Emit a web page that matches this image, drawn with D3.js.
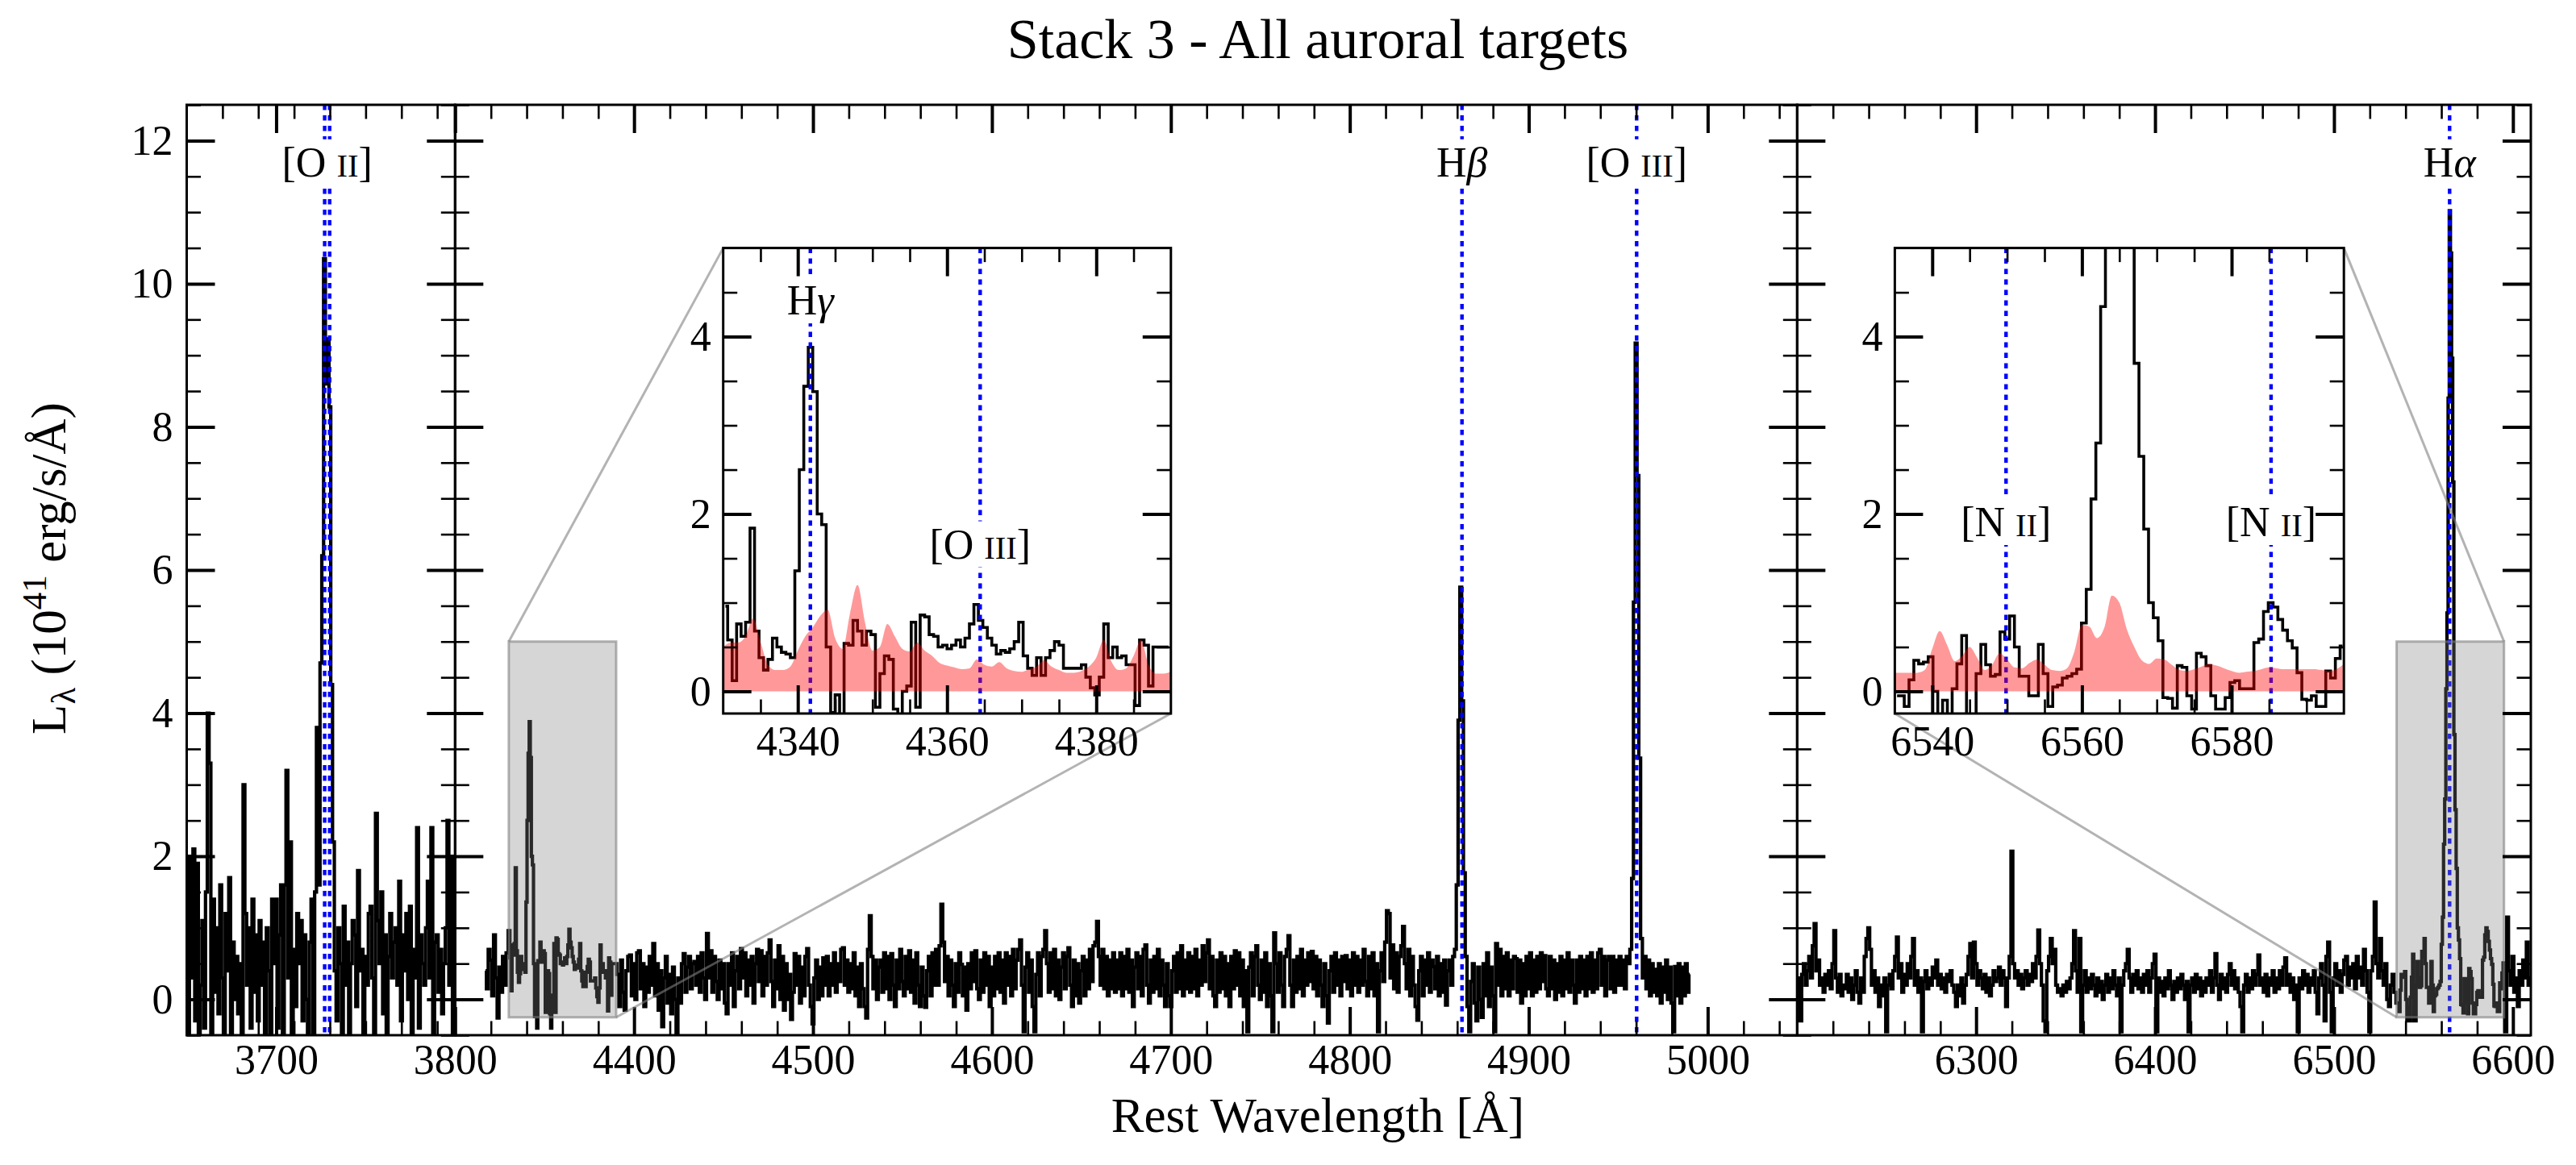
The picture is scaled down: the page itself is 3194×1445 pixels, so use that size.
<!DOCTYPE html>
<html><head><meta charset="utf-8">
<script src="https://cdn.jsdelivr.net/npm/d3@7"></script>
<style>body{margin:0;background:#fff}svg{display:block}</style>
</head><body><svg id="c" width="3194" height="1445"></svg>
<script>
// ---------------- DATA ----------------
const TITLE = "Stack 3 - All auroral targets";
const X_LABEL = "Rest Wavelength [Å]";
const PANEL_RANGES = [[3650, 3800], [4300, 5050], [6200, 6610]];
const X_TICK_LABELS = [[3700, 3800], [4400, 4500, 4600, 4700, 4800, 4900, 5000], [6300, 6400, 6500, 6600]];
const Y_DOMAIN = [-0.5, 12.5];
const Y_TICKS = [0, 2, 4, 6, 8, 10, 12];

// Panel 1 spectrum, 1 A sampling from 3651
const P1_START = 3651;
const P1_FLUX = [
-0.6,2.0,0.3,2.1,-0.3,1.9,-0.6,0.2,1.1,-0.4,
1.5,4.0,3.3,-0.6,1.4,0.1,1.0,-0.2,1.6,0.3,
-0.5,1.2,0.4,1.7,-0.6,0.8,0.0,0.6,-0.2,0.5,
-0.6,3.0,1.2,0.2,1.0,-0.4,1.4,0.1,0.9,-0.3,
1.1,0.2,0.8,-0.5,1.0,0.4,-0.6,1.4,0.5,1.4,
-0.4,0.9,1.6,-0.5,1.6,3.2,0.3,2.2,-0.6,0.7,
-0.1,1.2,0.5,1.1,-0.3,0.9,0.0,-0.6,0.8,1.4,
-0.5,1.5,3.8,1.6,4.7,6.2,10.35,8.6,9.23,8.28,
4.4,2.2,0.4,-0.3,1.0,0.5,-0.6,1.3,0.2,0.8,
-0.6,0.5,1.1,0.9,-0.1,1.8,0.4,0.7,-0.6,0.6,
0.2,1.2,1.3,0.3,-0.6,2.6,1.1,0.5,1.5,-0.2,
0.9,-0.6,0.6,1.2,0.3,0.8,1.0,0.2,1.65,-0.3,
0.9,0.4,1.2,0.0,1.3,-0.6,0.7,0.3,2.4,-0.4,
0.9,0.5,0.2,1.0,1.65,0.3,2.4,-0.6,0.8,0.9,
0.1,0.7,-0.2,0.5,1.0,2.5,0.2,2.0,-0.6,1.2];

// Panel 2 spectrum: 4317-4329 and 4391-4990 at 1 A
const P2A_START = 4317;
const P2A_FLUX = [0.4,0.15,0.7,0.55,0.05,0.9,0.3,-0.26,0.45,0.1,0.6,0.2,0.65];
const P2B_START = 4391;
const P2B_FLUX = [
0.35,-0.1,0.55,0.1,-0.15,0.4,0.6,0.62,0.05,0.5,0.0,0.65,0.68,0.15,0.5,-0.1,0.45,0.1,0.6,0.2,
0.78,0.05,0.5,-0.15,0.4,-0.38,0.3,0.6,-0.05,0.35,-0.2,0.45,0.0,-0.5,0.3,-0.05,0.5,0.64,0.1,0.45,
0.6,0.15,0.5,0.53,0.2,0.6,0.1,0.65,0.3,0.0,0.92,0.3,0.68,0.1,0.6,0.25,0.0,0.55,0.15,0.5,
-0.05,-0.2,0.5,0.2,0.65,-0.1,0.4,0.6,0.15,0.71,0.3,0.65,0.05,0.55,0.2,0.6,-0.05,0.5,0.7,0.25,
0.68,0.05,0.6,0.2,0.65,0.83,0.25,-0.1,0.55,0.15,0.75,0.0,0.6,-0.15,0.5,0.0,0.35,-0.28,0.1,0.64,
0.2,0.6,-0.05,0.45,0.05,0.6,0.71,0.2,-0.1,-0.34,0.3,0.55,0.0,0.45,0.05,0.58,0.2,0.6,0.05,0.5,
0.2,0.65,0.1,0.5,0.25,0.7,0.72,0.2,0.55,0.1,0.5,0.15,0.65,0.05,0.45,-0.1,0.5,0.15,-0.1,-0.26,
0.7,1.17,0.6,0.15,0.55,0.0,0.45,0.55,0.1,0.65,0.15,0.6,0.0,0.64,0.2,-0.1,0.55,0.15,0.7,0.25,
0.05,0.6,0.15,0.68,0.1,0.55,-0.05,0.65,0.2,-0.1,0.45,0.05,-0.11,0.4,0.6,0.05,0.65,0.2,0.7,0.2,
0.75,1.33,0.8,0.25,0.6,0.05,0.55,0.2,-0.1,0.5,0.1,0.65,0.49,0.05,0.45,-0.15,0.5,0.15,0.65,0.25,
0.68,0.15,0.0,0.55,0.1,0.65,0.2,0.6,-0.1,0.45,0.05,0.6,0.15,0.65,0.1,0.55,-0.05,0.65,0.2,0.6,
0.05,0.7,0.15,0.55,0.7,0.83,0.2,-0.45,0.45,0.65,0.1,0.55,-0.1,-0.45,0.35,0.65,0.05,0.6,0.7,0.96,
0.5,0.1,0.65,0.15,0.7,0.05,0.55,0.0,0.45,0.65,0.15,0.6,0.72,0.2,-0.1,0.55,0.05,0.5,-0.05,0.4,
0.6,0.05,0.55,0.15,0.7,0.25,0.75,0.8,1.09,0.6,0.2,0.7,0.15,0.6,0.05,0.55,0.15,0.65,0.1,0.55,
0.15,0.65,0.05,0.6,0.15,0.7,0.1,0.55,-0.1,0.45,0.65,0.15,0.6,0.05,0.7,0.76,0.2,-0.05,0.55,0.1,
0.6,0.15,0.7,0.05,0.55,0.2,-0.1,0.5,0.05,-0.1,0.4,0.6,0.1,0.65,0.15,0.75,0.05,0.55,0.15,0.65,
0.1,0.6,0.15,0.7,0.05,0.55,0.2,0.75,0.25,0.65,0.83,0.15,0.6,0.05,-0.1,0.55,0.1,0.65,0.15,0.6,
0.05,0.5,-0.1,0.6,0.15,0.68,0.2,0.65,0.05,0.55,-0.1,0.4,-0.45,0.45,0.65,0.05,0.6,0.75,0.2,0.0,
0.55,0.1,0.65,-0.1,0.5,0.05,-0.45,0.93,0.5,0.1,0.65,0.2,-0.1,0.6,0.7,0.89,0.2,-0.1,0.55,0.1,
0.6,0.15,0.7,0.05,0.55,0.2,0.65,0.25,0.67,0.15,0.6,0.05,0.55,0.2,-0.1,0.5,0.05,-0.33,0.4,0.6,
0.1,0.65,0.2,0.55,0.05,0.6,0.25,0.61,0.15,0.55,0.05,0.65,0.2,0.6,0.1,0.55,0.2,0.7,0.25,0.05,
0.6,0.15,0.65,0.05,0.5,-0.45,0.4,0.65,0.25,0.8,1.24,1.2,0.3,0.76,0.15,0.65,0.1,0.6,0.75,1.02,
0.5,0.15,0.7,0.05,0.6,0.2,-0.1,-0.29,0.4,0.6,0.05,0.55,0.2,0.65,0.1,0.55,0.46,0.15,0.6,0.05,
0.5,0.1,0.55,-0.08,0.4,0.55,0.2,0.6,0.7,1.6,3.9,5.76,4.17,1.77,0.6,-0.1,-0.45,0.25,0.5,-0.05,
-0.3,0.45,0.0,-0.25,0.5,0.05,0.65,-0.1,0.45,0.05,-0.45,0.78,0.2,0.7,0.05,0.6,0.15,0.65,0.05,0.55,
0.15,0.6,0.57,0.1,0.55,-0.05,0.5,0.05,0.6,0.15,0.65,0.05,0.55,0.1,0.6,0.15,0.65,0.25,0.61,0.15,
0.05,0.6,0.15,0.55,0.0,0.5,0.1,0.6,0.05,0.55,0.15,0.65,0.1,0.55,0.2,-0.05,0.55,0.1,0.6,0.15,
0.55,0.05,0.6,0.15,0.65,0.1,0.55,0.15,0.65,0.7,0.2,0.6,0.05,0.55,0.6,0.15,0.6,0.1,0.55,0.2,
0.6,0.2,0.55,0.15,0.6,0.5,0.7,1.69,5.55,9.17,7.32,3.37,0.85,0.3,0.6,0.15,0.55,0.05,0.5,0.1,
0.42,0.05,0.5,-0.05,0.45,0.1,0.55,0.0,0.45,-0.05,-0.45,0.46,0.05,0.5,-0.05,0.45,0.05,0.5,0.1,0.35];

// Panel 3 spectrum: 6200-6534 and 6596-6610 at 1 A
const P3A_START = 6200;
const P3A_FLUX = [
0.15,0.3,-0.3,0.35,0.5,0.2,0.4,0.6,0.3,0.75,1.06,0.4,0.55,0.2,0.3,0.1,0.35,0.2,0.4,0.15,
0.5,0.96,0.3,0.1,0.35,0.05,0.2,0.15,0.35,0.1,0.3,0.0,0.2,0.4,0.1,-0.05,0.3,0.1,0.6,0.85,
1.0,0.7,0.2,0.4,0.1,0.3,-0.1,0.2,0.05,0.3,-0.45,0.2,0.35,0.15,0.4,0.6,0.87,0.3,0.5,0.1,
0.35,0.2,0.5,0.3,0.6,0.85,0.2,0.4,0.1,0.3,-0.45,0.25,0.4,0.15,0.3,0.2,0.45,0.3,0.55,0.2,
0.35,0.15,0.3,0.1,0.35,0.25,0.4,0.2,0.1,-0.1,0.2,0.05,0.3,-0.05,0.2,0.35,0.6,0.78,0.3,0.8,
0.5,0.2,0.4,0.3,0.15,0.35,0.1,0.3,0.05,0.2,0.4,0.25,0.3,0.45,0.2,0.4,0.3,-0.1,0.3,0.6,
2.07,0.5,0.3,0.4,0.2,0.35,0.15,0.3,0.4,0.2,0.35,0.25,0.5,0.3,0.6,0.97,0.5,0.2,-0.3,-0.45,
0.4,0.6,0.85,0.5,0.7,0.2,0.1,0.15,0.05,0.2,0.1,0.25,0.15,0.3,0.5,0.96,0.4,0.1,0.85,-0.45,
0.2,0.4,0.1,0.3,0.15,0.35,0.2,0.05,0.3,0.1,0.25,0.0,0.2,0.35,0.1,0.3,0.15,0.4,0.2,0.05,
0.3,-0.45,0.2,0.4,0.5,0.7,0.3,0.1,0.35,0.2,0.4,0.15,0.3,0.1,0.35,0.2,0.4,0.1,0.3,0.5,
0.63,-0.45,0.3,0.1,0.25,0.05,0.3,0.15,0.4,0.2,0.0,0.25,0.1,0.3,0.15,0.35,0.2,0.0,0.25,-0.45,
0.2,0.3,0.1,0.35,0.15,0.3,0.05,0.25,0.1,0.3,0.2,0.4,0.1,0.3,0.64,0.2,0.0,0.35,0.15,0.3,
0.1,0.35,0.5,0.2,0.4,0.15,0.3,0.1,-0.1,-0.45,0.2,0.35,0.1,0.3,0.15,0.4,0.2,0.35,0.62,0.2,
0.3,0.1,0.35,0.05,0.3,0.2,0.4,0.1,0.3,0.15,0.4,0.2,0.45,0.58,0.2,0.35,0.1,0.3,0.0,0.2,
-0.45,0.3,0.15,0.4,0.2,0.35,0.1,0.3,0.2,0.4,0.1,-0.2,0.3,0.5,0.2,-0.3,0.6,0.8,0.1,-0.45,
0.3,0.5,0.2,0.4,0.1,0.35,0.55,0.6,0.2,0.45,0.3,0.5,0.15,0.6,0.3,0.45,0.2,0.7,0.4,0.1,
-0.45,0.4,0.6,1.36,0.5,0.3,0.85,0.4,0.2,0.5,0.0,-0.1,0.2,0.35,0.1];
const P3B_START = 6596;
const P3B_FLUX = [-0.45,1.15,0.4,0.2,0.6,0.1,0.3,-0.1,0.4,0.2,0.55,0.3,0.8,0.2,0.3];

// Inset 1 (H-gamma / [O III] 4363) spectrum, 0.6 A sampling
const INSET1_RANGE = [4330, 4390];
const INSET1_START = 4330.3, INSET1_STEP = 0.6;
const INSET1_FLUX = [
0.96,0.58,0.12,0.76,0.62,0.78,1.84,0.68,0.38,0.24,
0.36,0.6,0.5,0.44,0.42,0.38,1.36,2.5,3.44,3.88,
3.38,2.0,1.88,0.5,-0.24,-0.04,-0.4,0.54,0.52,0.8,
0.68,0.52,0.68,0.64,-0.18,0.2,0.4,0.36,-0.2,-0.4,
0.0,0.06,0.78,-0.18,0.86,0.84,0.64,0.62,0.5,0.52,
0.48,0.52,0.58,0.5,0.6,0.76,0.98,0.8,0.72,0.6,
0.52,0.42,0.46,0.44,0.48,0.56,0.78,0.4,0.26,0.18,
0.38,0.18,0.38,0.46,0.56,0.52,0.26,0.26,0.26,0.26,
0.3,0.16,0.04,-0.04,0.16,0.76,0.38,0.5,0.38,0.4,
0.3,0.3,-0.16,0.58,0.52,0.06,0.5,0.5,0.5,0.5];
const INSET1_ERR_START = 4330;
const INSET1_ERR = [
0.5,0.55,0.55,0.62,0.82,0.56,0.3,0.24,0.24,0.28,
0.46,0.62,0.72,0.85,0.92,0.6,0.48,0.88,1.2,0.78,
0.46,0.5,0.76,0.62,0.48,0.45,0.55,0.46,0.4,0.32,
0.29,0.27,0.25,0.26,0.36,0.3,0.28,0.33,0.26,0.23,
0.22,0.25,0.28,0.35,0.28,0.24,0.21,0.21,0.23,0.28,
0.38,0.58,0.34,0.24,0.26,0.4,0.58,0.3,0.2,0.2,0.22];

// Inset 2 (H-alpha / [N II]) spectrum, 0.64 A sampling
const INSET2_RANGE = [6535, 6595];
const INSET2_START = 6535.3, INSET2_STEP = 0.64;
const INSET2_FLUX = [
-0.05,-0.05,-0.17,0.13,0.35,0.31,0.33,0.39,0.0,-0.3,
-0.1,-0.3,0.03,0.31,0.63,-0.3,-0.3,0.2,0.53,0.3,
0.17,0.19,0.67,0.59,0.85,0.5,0.17,0.17,-0.05,-0.05,
0.53,0.2,-0.17,0.05,0.07,0.15,0.17,0.2,0.25,0.77,
1.15,2.17,2.8,4.34,5.4,8.4,11.02,10.43,8.96,7.23,
3.7,2.65,1.83,1.0,0.83,0.57,-0.07,-0.08,-0.19,0.29,
0.27,-0.05,-0.2,0.43,0.39,0.29,-0.05,-0.2,-0.2,-0.07,
0.1,0.12,0.03,0.03,0.03,0.55,0.59,0.9,1.0,0.95,
0.81,0.69,0.57,0.49,0.21,-0.09,-0.1,-0.05,-0.17,-0.17,
0.23,0.15,0.37,0.51];
const INSET2_ERR_START = 6535;
const INSET2_ERR = [
0.21,0.21,0.21,0.21,0.24,0.48,0.68,0.52,0.34,0.4,
0.5,0.38,0.24,0.3,0.43,0.36,0.27,0.26,0.32,0.36,
0.3,0.24,0.23,0.26,0.45,0.75,0.73,0.6,0.72,1.08,
1.0,0.7,0.5,0.35,0.31,0.37,0.36,0.3,0.24,0.23,
0.25,0.28,0.31,0.29,0.26,0.23,0.21,0.22,0.23,0.25,
0.27,0.26,0.25,0.25,0.25,0.25,0.25,0.24,0.23,0.25,0.31];
const INSET_Y_DOMAIN = [-0.25, 5];

// Emission lines (vacuum wavelengths)
const MAIN_LINES = [
  {panel: 0, waves: [3727.09, 3729.88], label: [{t: "[O "}, {t: "II", sc: true}, {t: "]"}]},
  {panel: 1, waves: [4862.68], label: [{t: "H"}, {t: "β", it: true}]},
  {panel: 1, waves: [4960.29], label: [{t: "[O "}, {t: "III", sc: true}, {t: "]"}]},
  {panel: 2, waves: [6564.61], label: [{t: "H"}, {t: "α", it: true}]}
];
const MAIN_LABEL_Y = 11.5;
const INSET1_LINES = [
  {wave: 4341.68, y: 4.25, label: [{t: "H"}, {t: "γ", it: true}]},
  {wave: 4364.44, y: 1.5, label: [{t: "[O "}, {t: "III", sc: true}, {t: "]"}]}
];
const INSET2_LINES = [
  {wave: 6549.86, y: 1.75, label: [{t: "[N "}, {t: "II", sc: true}, {t: "]"}]},
  {wave: 6585.27, y: 1.75, label: [{t: "[N "}, {t: "II", sc: true}, {t: "]"}]}
];

// ---------------- LAYOUT / STYLE ----------------
const FONT = "'Liberation Serif','Times New Roman',serif";
const PLOT_TOP = 130, PLOT_BOTTOM = 1284, PLOT_LEFT = 231.5, PX_PER_A = 2.2187;
const INSET1_BOX = {x0: 896.7, x1: 1451.8, y0: 307.6, y1: 885};
const INSET2_BOX = {x0: 2349.4, x1: 2906.2, y0: 307.6, y1: 885};
const TICK_FS = 52, LABEL_FS = 52;
const MAJOR_LEN = 35, MINOR_LEN = 17.5;
const SPEC_W = 4.2;

const svg = d3.select("#c");
svg.append("rect").attr("width", 3194).attr("height", 1445).attr("fill", "#fff");
const defs = svg.append("defs");

const seq = (start, step, vals) => vals.map((v, i) => ({w: start + i * step, f: v}));
const inset1Data = seq(INSET1_START, INSET1_STEP, INSET1_FLUX);
const inset2Data = seq(INSET2_START, INSET2_STEP, INSET2_FLUX);
const panelData = [
  seq(P1_START, 1, P1_FLUX),
  [...seq(P2A_START, 1, P2A_FLUX), ...inset1Data, ...seq(P2B_START, 1, P2B_FLUX)],
  [...seq(P3A_START, 1, P3A_FLUX), ...inset2Data, ...seq(P3B_START, 1, P3B_FLUX)]
];

const yMain = d3.scaleLinear().domain(Y_DOMAIN).range([PLOT_BOTTOM, PLOT_TOP]);
let cursor = PLOT_LEFT;
const panels = PANEL_RANGES.map((r, i) => {
  const w = (r[1] - r[0]) * PX_PER_A;
  const p = {i, range: r, x0: cursor, x1: cursor + w, x: d3.scaleLinear().domain(r).range([cursor, cursor + w])};
  cursor += w;
  return p;
});

function styleAxis(g, width) {
  g.select(".domain").remove();
  g.attr("font-family", FONT).attr("font-size", TICK_FS);
  g.selectAll(".tick line").attr("stroke", "#000").attr("stroke-width", width);
  g.selectAll(".tick text").attr("fill", "#000");
}

function drawAxes(g, x, y, o) {
  const [xa, xb] = x.range(); const [yb, ya] = y.range();
  const fmt = d3.format("d");
  const specs = [
    {gen: d3.axisBottom, s: x, t: `translate(0,${yb})`, major: o.xMajor, minor: o.xMinor, lab: o.xLab, pad: o.xPad},
    {gen: d3.axisTop, s: x, t: `translate(0,${ya})`, major: o.xMajor, minor: o.xMinor, lab: false},
    {gen: d3.axisLeft, s: y, t: `translate(${xa},0)`, major: o.yMajor, minor: o.yMinor, lab: o.yLab, pad: o.yPad},
    {gen: d3.axisRight, s: y, t: `translate(${xb},0)`, major: o.yMajor, minor: o.yMinor, lab: false}
  ];
  specs.forEach(sp => {
    const gm = g.append("g").attr("transform", sp.t)
      .call(sp.gen(sp.s).tickValues(sp.minor).tickSize(-MINOR_LEN).tickSizeOuter(0).tickFormat(""));
    styleAxis(gm, 2.6);
    const gM = g.append("g").attr("transform", sp.t)
      .call(sp.gen(sp.s).tickValues(sp.major).tickSize(-MAJOR_LEN).tickSizeOuter(0)
        .tickPadding(sp.pad || 0).tickFormat(sp.lab ? fmt : ""));
    styleAxis(gM, 4);
  });
  g.append("rect").attr("x", xa).attr("y", ya).attr("width", xb - xa).attr("height", yb - ya)
    .attr("fill", "none").attr("stroke", "#000").attr("stroke-width", 3);
}

function addLabel(g, x, y, parts, size) {
  const t = g.append("text").attr("x", x).attr("y", y).attr("text-anchor", "middle")
    .attr("font-family", FONT).attr("font-size", size).attr("fill", "#000");
  parts.forEach(p => {
    const ts = t.append("tspan").text(p.t);
    if (p.sc) ts.attr("font-size", size * 0.78);
    if (p.it) ts.attr("font-style", "italic");
  });
  const bb = t.node().getBBox();
  g.insert("rect", () => t.node()).attr("x", bb.x).attr("y", bb.y).attr("width", bb.width)
    .attr("height", bb.height).attr("fill", "#fff");
}

function vline(g, x, y0, y1) {
  g.append("line").attr("x1", x).attr("x2", x).attr("y1", y0).attr("y2", y1)
    .attr("stroke", "#0000ff").attr("stroke-width", 4.4).attr("stroke-dasharray", "6.5,6.5");
}

const yMinorMain = d3.range(-0.5, 12.51, 0.5).filter(v => Math.abs(v % 2) > 1e-6);
const zoomRects = {1: {range: INSET1_RANGE}, 2: {range: INSET2_RANGE}};

// ---------------- MAIN PANELS ----------------
panels.forEach((p, i) => {
  const g = svg.append("g");
  const cid = "clipP" + i;
  defs.append("clipPath").attr("id", cid).append("rect")
    .attr("x", p.x0).attr("y", PLOT_TOP).attr("width", p.x1 - p.x0).attr("height", PLOT_BOTTOM - PLOT_TOP);
  const inner = g.append("g").attr("clip-path", `url(#${cid})`);
  const line = d3.line().x(d => p.x(d.w)).y(d => yMain(d.f)).curve(d3.curveStep);
  inner.append("path").datum(panelData[i]).attr("d", line)
    .attr("fill", "none").attr("stroke", "#000").attr("stroke-width", SPEC_W).attr("stroke-linejoin", "miter");
  MAIN_LINES.filter(l => l.panel === i).forEach(l => {
    l.waves.forEach(w => vline(inner, p.x(w), PLOT_TOP, PLOT_BOTTOM));
  });
  if (zoomRects[i]) {
    const r = zoomRects[i].range;
    inner.append("rect").attr("x", p.x(r[0])).attr("y", yMain(INSET_Y_DOMAIN[1]))
      .attr("width", p.x(r[1]) - p.x(r[0])).attr("height", yMain(INSET_Y_DOMAIN[0]) - yMain(INSET_Y_DOMAIN[1]))
      .attr("fill", "#808080").attr("fill-opacity", 0.32)
      .attr("stroke", "#808080").attr("stroke-opacity", 0.6).attr("stroke-width", 3);
  }
  MAIN_LINES.filter(l => l.panel === i).forEach(l => {
    addLabel(g, p.x(d3.mean(l.waves)), yMain(MAIN_LABEL_Y), l.label, LABEL_FS);
  });
  const majors = X_TICK_LABELS[i];
  const minors = d3.range(p.range[0] + 20, p.range[1], 20).filter(v => v % 100 !== 0);
  drawAxes(g, p.x, yMain, {xMajor: majors, xMinor: minors, xLab: true, xPad: 11,
    yMajor: Y_TICKS, yMinor: yMinorMain, yLab: i === 0, yPad: 17});
});

// ---------------- INSETS ----------------
function drawInset(box, range, data, errStart, err, lines, panel) {
  const x = d3.scaleLinear().domain(range).range([box.x0, box.x1]);
  const y = d3.scaleLinear().domain(INSET_Y_DOMAIN).range([box.y1, box.y0]);
  const px = panel.x;
  const conn = svg.append("g").attr("stroke", "#808080").attr("stroke-opacity", 0.6).attr("stroke-width", 3);
  if (panel.i === 1) {
    conn.append("line").attr("x1", px(range[0])).attr("y1", yMain(INSET_Y_DOMAIN[1])).attr("x2", box.x0).attr("y2", box.y0);
    conn.append("line").attr("x1", px(range[1])).attr("y1", yMain(INSET_Y_DOMAIN[0])).attr("x2", box.x1).attr("y2", box.y1);
  } else {
    conn.append("line").attr("x1", px(range[1])).attr("y1", yMain(INSET_Y_DOMAIN[1])).attr("x2", box.x1).attr("y2", box.y0);
    conn.append("line").attr("x1", px(range[0])).attr("y1", yMain(INSET_Y_DOMAIN[0])).attr("x2", box.x0).attr("y2", box.y1);
  }
  const g = svg.append("g");
  g.append("rect").attr("x", box.x0).attr("y", box.y0).attr("width", box.x1 - box.x0).attr("height", box.y1 - box.y0).attr("fill", "#fff");
  const cid = "clipI" + panel.i;
  defs.append("clipPath").attr("id", cid).append("rect")
    .attr("x", box.x0).attr("y", box.y0).attr("width", box.x1 - box.x0).attr("height", box.y1 - box.y0);
  const inner = g.append("g").attr("clip-path", `url(#${cid})`);
  inner.append("path").datum(data)
    .attr("d", d3.line().x(d => x(d.w)).y(d => y(d.f)).curve(d3.curveStep))
    .attr("fill", "none").attr("stroke", "#000").attr("stroke-width", 3.6);
  lines.forEach(l => vline(inner, x(l.wave), box.y0, box.y1));
  const errData = seq(errStart, 1, err);
  inner.append("path").datum(errData)
    .attr("d", d3.area().x(d => x(d.w)).y0(y(0)).y1(d => y(d.f)).curve(d3.curveMonotoneX))
    .attr("fill", "#ff0000").attr("fill-opacity", 0.4).attr("stroke", "none");
  lines.forEach(l => addLabel(g, x(l.wave), y(l.y), l.label, LABEL_FS));
  const majors = d3.range(range[0], range[1] + 1, 5).filter(v => v % 20 === 0);
  const minors = d3.range(range[0] + 5, range[1], 5).filter(v => v % 20 !== 0);
  drawAxes(g, x, y, {xMajor: majors, xMinor: minors, xLab: true, xPad: 15,
    yMajor: [0, 2, 4], yMinor: [0.5, 1, 1.5, 2.5, 3, 3.5, 4.5], yLab: true, yPad: 15});
}
drawInset(INSET1_BOX, INSET1_RANGE, inset1Data, INSET1_ERR_START, INSET1_ERR, INSET1_LINES, panels[1]);
drawInset(INSET2_BOX, INSET2_RANGE, inset2Data, INSET2_ERR_START, INSET2_ERR, INSET2_LINES, panels[2]);

// ---------------- TITLES ----------------
svg.append("text").attr("x", 1634).attr("y", 72).attr("text-anchor", "middle")
  .attr("font-family", FONT).attr("font-size", 70).text(TITLE);
svg.append("text").attr("x", 1634).attr("y", 1404).attr("text-anchor", "middle")
  .attr("font-family", FONT).attr("font-size", 61).text(X_LABEL);
const yl = svg.append("text").attr("transform", "translate(81,705) rotate(-90)").attr("text-anchor", "middle")
  .attr("font-family", FONT).attr("font-size", 61);
yl.append("tspan").text("L");
yl.append("tspan").attr("dy", 12).attr("font-size", 43).text("λ");
yl.append("tspan").attr("dy", -12).text(" (10");
yl.append("tspan").attr("dy", -24).attr("font-size", 43).text("41");
yl.append("tspan").attr("dy", 24).text(" erg/s/Å)");
</script>
</body></html>
